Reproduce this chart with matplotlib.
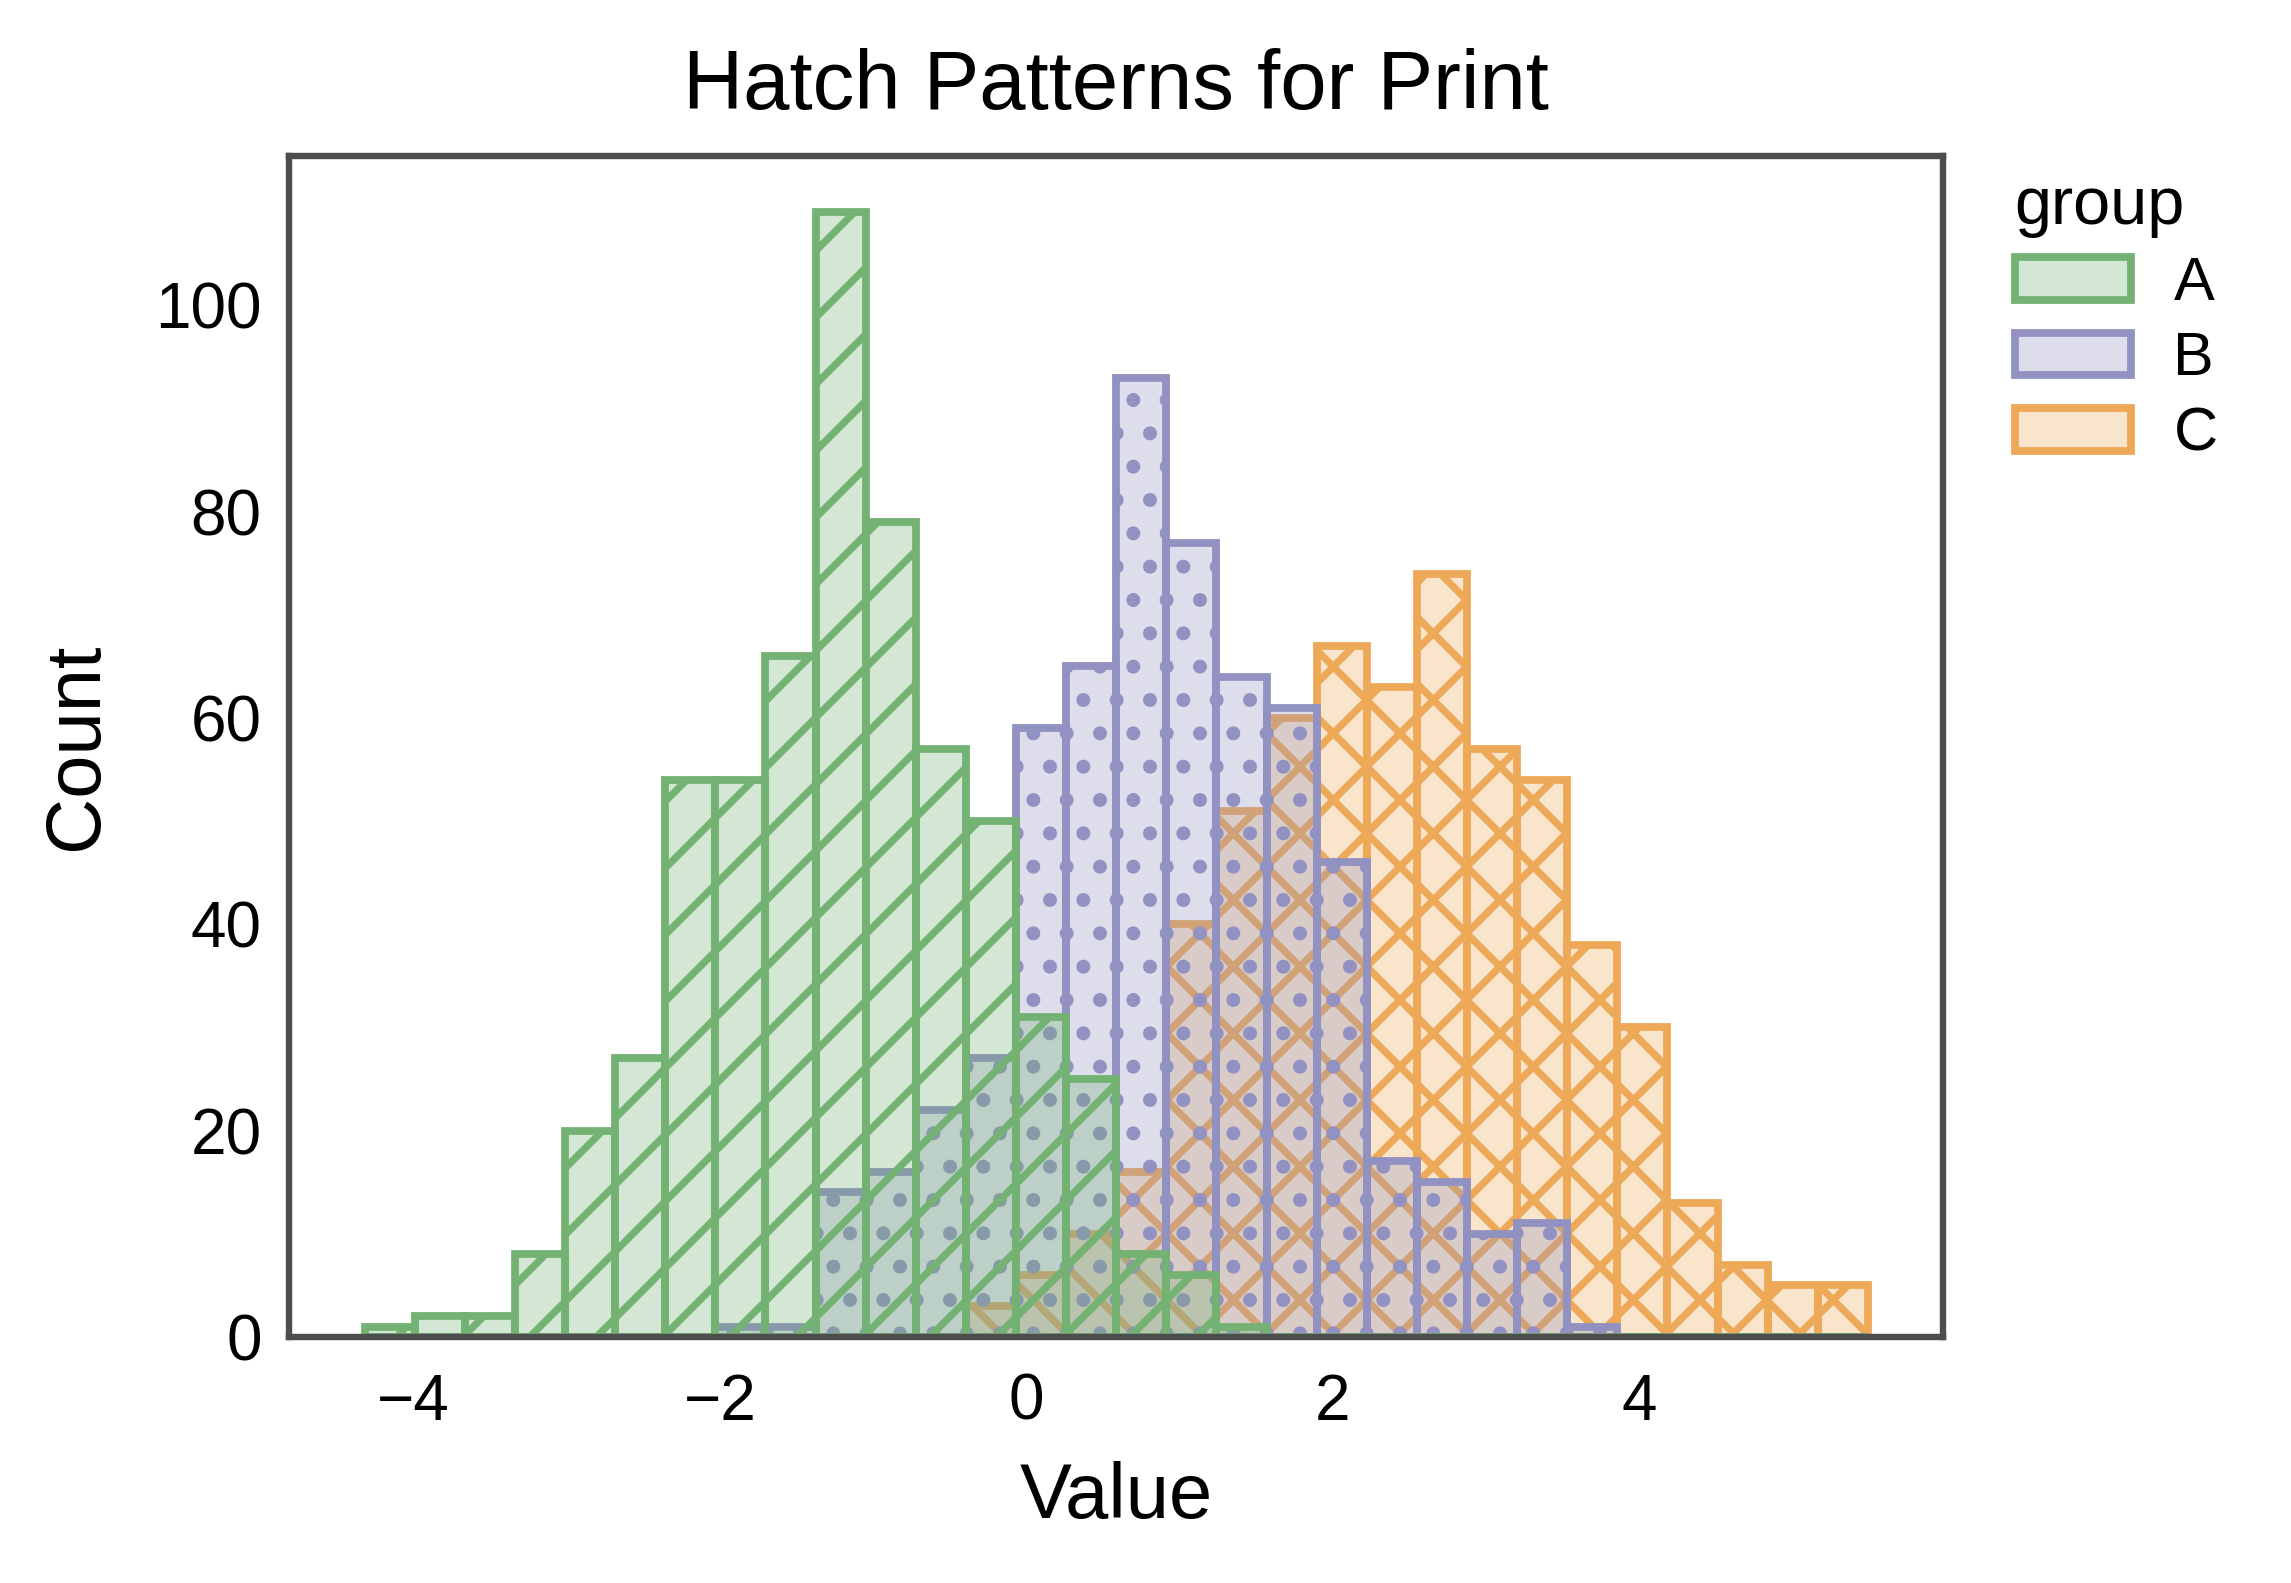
import numpy as np
import matplotlib
matplotlib.use("Agg")
import matplotlib.pyplot as plt
from matplotlib.colors import to_rgba
from matplotlib.patches import Patch

# bin layout: 30 equal bins over the pooled range
bin_lo = -4.32
bin_hi = 5.493
n_bins = 30

groups = ["A", "B", "C"]

# counts per bin
counts_a = [1, 2, 2, 8, 20, 27, 54, 54, 66, 109, 79, 57, 50, 31, 25,
            8, 6, 1, 0, 0, 0, 0, 0, 0, 0, 0, 0, 0, 0, 0]
counts_b = [0, 0, 0, 0, 0, 0, 0, 1, 1, 14, 16, 22, 27, 59, 65,
            93, 77, 64, 61, 46, 17, 15, 10, 11, 1, 0, 0, 0, 0, 0]
counts_c = [0, 0, 0, 0, 0, 0, 0, 0, 0, 0, 0, 0, 3, 6, 10,
            16, 40, 51, 60, 67, 63, 74, 57, 54, 38, 30, 13, 7, 5, 5]

colors = ["#73B273", "#9191C2", "#EDA958"]
hatches = ["/", ".", "x"]

plt.rcParams["font.family"] = ["Liberation Sans", "DejaVu Sans"]
plt.rcParams["hatch.linewidth"] = 2.6

edges = np.linspace(bin_lo, bin_hi, n_bins + 1)
widths = np.diff(edges)
counts = [counts_a, counts_b, counts_c]

fig = plt.figure(figsize=(2291 / 200, 1583 / 200), dpi=200)
ax = fig.add_axes([0.1263, 0.1555, 0.8481 - 0.1263, 0.9013 - 0.1555])

# seaborn-style: last hue level drawn first so "A" ends on top
for i in reversed(range(len(groups))):
    ax.bar(edges[:-1], counts[i], width=widths, align="edge",
           facecolor=to_rgba(colors[i], 0.3), edgecolor=colors[i],
           linewidth=2.8, hatch=hatches[i])

ax.set_title("Hatch Patterns for Print", fontsize=30, pad=17)
ax.set_xlabel("Value", fontsize=28, labelpad=10)
ax.set_ylabel("Count", fontsize=28, labelpad=15)
ax.tick_params(axis="both", labelsize=23, length=0)
ax.tick_params(axis="x", pad=13)
ax.tick_params(axis="y", pad=10)
ax.set_yticks([0, 20, 40, 60, 80, 100])
ax.set_xticks([-4, -2, 0, 2, 4])

for sp in ax.spines.values():
    sp.set_color("#4D4D4D")
    sp.set_linewidth(2.3)

handles = [Patch(facecolor=to_rgba(c, 0.3), edgecolor=c, linewidth=2.8) for c in colors]
leg = ax.legend(handles, groups, title="group", loc="upper left",
                bbox_to_anchor=(1.01, 1.03), frameon=False,
                fontsize=22, title_fontsize=24, labelspacing=0.3,
                handlelength=1.9, handletextpad=0.7)
leg._legend_box.align = "left"

fig.savefig("out.png", dpi=200)
